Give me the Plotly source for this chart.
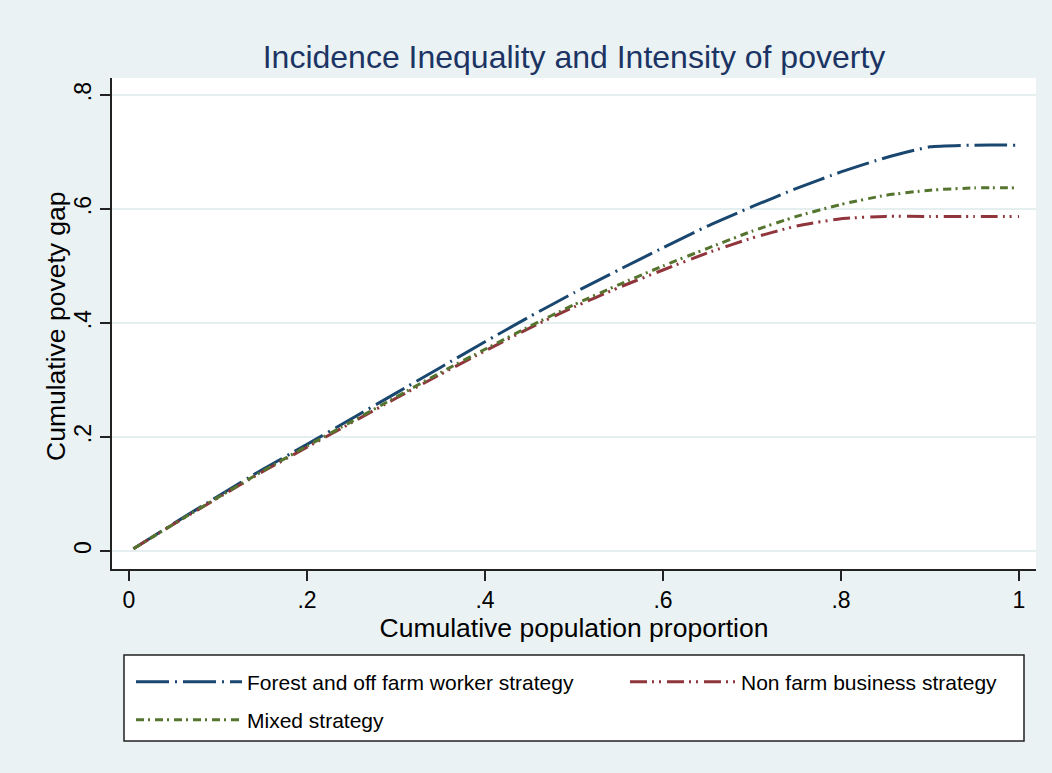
import plotly.graph_objects as go

# Cumulative population proportion (x) and cumulative poverty gap (y) per strategy
pop_share = [0.005, 0.05, 0.10, 0.15, 0.20, 0.25, 0.30, 0.35, 0.40, 0.45, 0.50,
             0.55, 0.60, 0.65, 0.70, 0.75, 0.80, 0.85, 0.90, 0.95, 1.00]
forest_offfarm = [0.004, 0.048, 0.096, 0.143, 0.187, 0.232, 0.277, 0.322, 0.367, 0.411, 0.453,
                  0.493, 0.532, 0.570, 0.604, 0.636, 0.665, 0.690, 0.709, 0.712, 0.712]
non_farm_business = [0.004, 0.047, 0.093, 0.139, 0.182, 0.225, 0.268, 0.310, 0.351, 0.391, 0.428,
                     0.462, 0.493, 0.523, 0.549, 0.570, 0.583, 0.587, 0.587, 0.587, 0.587]
mixed = [0.004, 0.047, 0.094, 0.140, 0.184, 0.227, 0.270, 0.313, 0.354, 0.394, 0.432,
         0.467, 0.500, 0.531, 0.561, 0.587, 0.608, 0.624, 0.633, 0.637, 0.637]

x_ticks = [0, 0.2, 0.4, 0.6, 0.8, 1.0]
x_ticklabels = ["0", ".2", ".4", ".6", ".8", "1"]
y_ticks = [0, 0.2, 0.4, 0.6, 0.8]
y_ticklabels = ["0", ".2", ".4", ".6", ".8"]

FONT = "Liberation Sans, Arial, sans-serif"
BG = "#eaf2f3"
W, H = 1052, 773

fig = go.Figure()
fig.add_trace(go.Scatter(
    x=pop_share, y=forest_offfarm, mode="lines",
    name="Forest and off farm worker strategy", legend="legend",
    line=dict(color="#1a476f", width=3, dash="33px,6px,2px,6px",
              shape="spline", smoothing=0.5),
))
fig.add_trace(go.Scatter(
    x=pop_share, y=non_farm_business, mode="lines",
    name="Non farm business strategy", legend="legend2",
    line=dict(color="#90353b", width=3, dash="17px,5px,2px,5px,2px,6px",
              shape="spline", smoothing=0.5),
))
fig.add_trace(go.Scatter(
    x=pop_share, y=mixed, mode="lines",
    name="Mixed strategy", legend="legend3",
    line=dict(color="#55752f", width=3, dash="8px,4px,2px,5px",
              shape="spline", smoothing=0.5),
))

# Plot area spans 112..1036 px horizontally and 78..569 px vertically
L, R, T, B = 112, 1036, 78, 569


def paper_x(px):
    return (px - L) / (R - L)


def paper_y(py):
    return (B - py) / (B - T)


legend_common = dict(
    xref="container", yref="container", xanchor="left", yanchor="middle",
    bgcolor="rgba(0,0,0,0)", borderwidth=0, itemwidth=106,
    font=dict(family=FONT, size=21, color="#000000"),
)

fig.update_layout(
    width=W, height=H,
    showlegend=True,
    margin=dict(l=L, r=W - R, t=T, b=H - B, autoexpand=False),
    paper_bgcolor=BG, plot_bgcolor="#ffffff",
    font=dict(family=FONT, color="#000000"),
    title=dict(
        text="Incidence Inequality and Intensity of poverty",
        x=paper_x(574), xref="paper", xanchor="center",
        y=1 - 57 / H, yref="container", yanchor="middle",
        font=dict(family=FONT, size=32, color="#1c3464"),
    ),
    xaxis=dict(
        range=[-0.0191, 1.0191], tickvals=x_ticks, ticktext=x_ticklabels,
        showgrid=False, zeroline=False,
        showline=True, linecolor="#222222", linewidth=1.5,
        ticks="outside", ticklen=10, tickwidth=1.5, tickcolor="#222222",
        tickfont=dict(family=FONT, size=23, color="#000000"),
        title=dict(text="Cumulative population proportion", standoff=2,
                   font=dict(family=FONT, size=26.5, color="#000000")),
    ),
    yaxis=dict(
        range=[-0.0316, 0.8298], tickvals=y_ticks, ticktext=y_ticklabels,
        tickangle=-90,
        showgrid=True, gridcolor="#e6eff0", gridwidth=2,
        zeroline=False,
        showline=True, linecolor="#222222", linewidth=1.5,
        ticks="outside", ticklen=10, tickwidth=1.5, tickcolor="#222222",
        tickfont=dict(family=FONT, size=23, color="#000000"),
    ),
    annotations=[dict(
        text="Cumulative povety gap", textangle=-90,
        xref="paper", yref="paper", x=paper_x(56), y=paper_y(326),
        xanchor="center", yanchor="middle", showarrow=False,
        font=dict(family=FONT, size=26.5, color="#000000"),
    )],
    legend=dict(x=131 / W, y=1 - 682 / H, **legend_common),
    legend2=dict(x=625 / W, y=1 - 682 / H, **legend_common),
    legend3=dict(x=131 / W, y=1 - 720 / H, **legend_common),
    shapes=[dict(
        type="rect", xref="paper", yref="paper",
        x0=paper_x(124), x1=paper_x(1024), y0=paper_y(741), y1=paper_y(655),
        line=dict(color="#222222", width=1.5), fillcolor="#ffffff", layer="below",
    )],
)

fig.write_html("out.html")
